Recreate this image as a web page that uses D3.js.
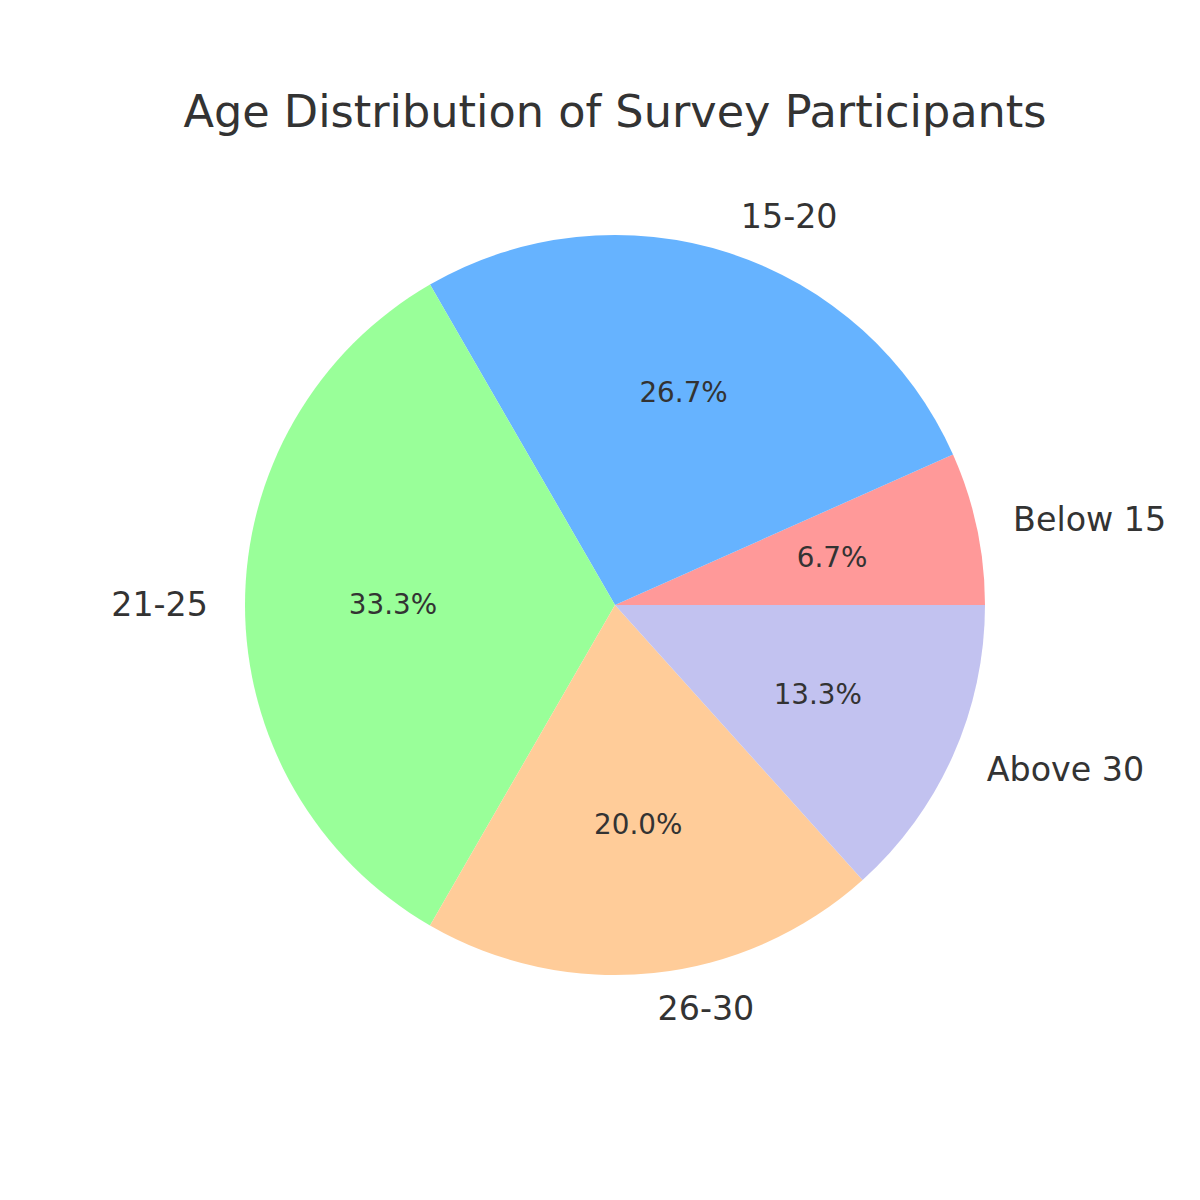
<!DOCTYPE html>
<html>
<head>
<meta charset="utf-8">
<script src="https://cdn.jsdelivr.net/npm/d3@7"></script>
<style>
  body { margin: 0; background: #fff; }
  text { font-family: 'DejaVu Sans', sans-serif; fill: #333333; }
</style>
</head>
<body>
<div id="chart"></div>
<script>
const categories = ['Below 15', '15-20', '21-25', '26-30', 'Above 30'];
const counts = [1, 4, 5, 3, 2];
const colors = ['#ff9999', '#66b3ff', '#99ff99', '#ffcc99', '#c2c2f0'];

const width = 1200, height = 1200;
const cx = 615, cy = 605, radius = 370;

const svg = d3.select('#chart')
  .append('svg')
  .attr('width', width)
  .attr('height', height);

svg.append('text')
  .attr('x', cx)
  .attr('y', 127)
  .attr('text-anchor', 'middle')
  .attr('font-size', '44.6px')
  .text('Age Distribution of Survey Participants');

const total = d3.sum(counts);
const data = categories.map((c, i) => ({ name: c, value: counts[i], color: colors[i] }));

// matplotlib style: start at 3 o'clock, go counterclockwise
const pie = d3.pie()
  .sort(null)
  .value(d => d.value)
  .startAngle(Math.PI / 2)
  .endAngle(Math.PI / 2 - 2 * Math.PI);

const arc = d3.arc().innerRadius(0).outerRadius(radius);

const g = svg.append('g').attr('transform', `translate(${cx},${cy})`);
const arcs = pie(data);

g.selectAll('path')
  .data(arcs)
  .enter()
  .append('path')
  .attr('d', arc)
  .attr('fill', d => d.data.color);

const mid = d => (d.startAngle + d.endAngle) / 2;

// category labels at 1.1r
g.selectAll('.cat-label')
  .data(arcs)
  .enter()
  .append('text')
  .attr('class', 'cat-label')
  .attr('x', d => Math.sin(mid(d)) * radius * 1.1)
  .attr('y', d => -Math.cos(mid(d)) * radius * 1.1 - 1)
  .attr('text-anchor', d => Math.sin(mid(d)) >= 0 ? 'start' : 'end')
  .attr('dominant-baseline', 'central')
  .attr('font-size', '33.3px')
  .text(d => d.data.name);

// percentage labels at 0.6r
g.selectAll('.pct-label')
  .data(arcs)
  .enter()
  .append('text')
  .attr('class', 'pct-label')
  .attr('x', d => Math.sin(mid(d)) * radius * 0.6)
  .attr('y', d => -Math.cos(mid(d)) * radius * 0.6 - 1)
  .attr('text-anchor', 'middle')
  .attr('dominant-baseline', 'central')
  .attr('font-size', '27.8px')
  .text(d => (d.data.value / total * 100).toFixed(1) + '%');
</script>
</body>
</html>
